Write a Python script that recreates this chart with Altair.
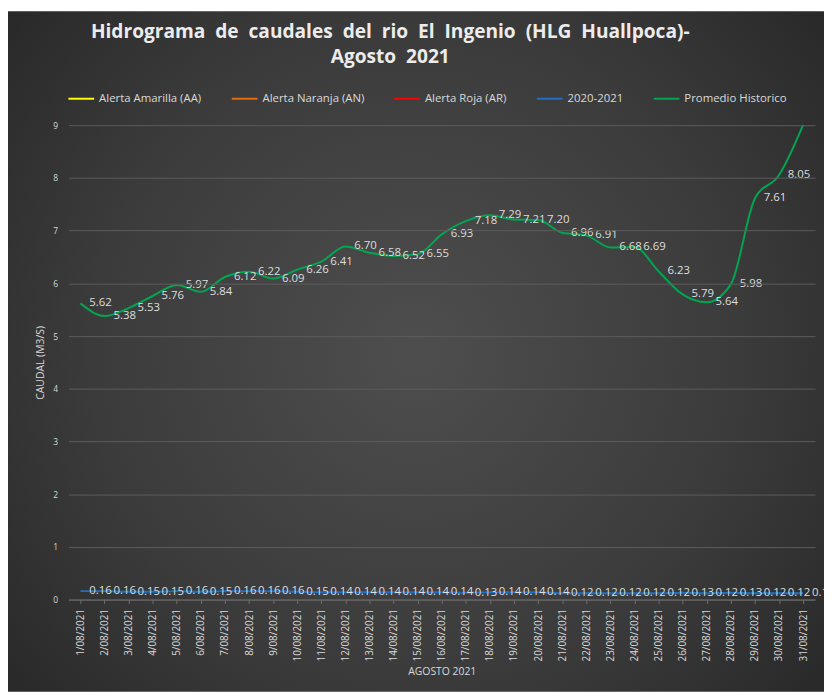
import altair as alt
import pandas as pd

dias = ["1/08/2021", "2/08/2021", "3/08/2021", "4/08/2021", "5/08/2021", "6/08/2021",
        "7/08/2021", "8/08/2021", "9/08/2021", "10/08/2021", "11/08/2021", "12/08/2021",
        "13/08/2021", "14/08/2021", "15/08/2021", "16/08/2021", "17/08/2021", "18/08/2021",
        "19/08/2021", "20/08/2021", "21/08/2021", "22/08/2021", "23/08/2021", "24/08/2021",
        "25/08/2021", "26/08/2021", "27/08/2021", "28/08/2021", "29/08/2021", "30/08/2021",
        "31/08/2021"]

promedio = [5.62, 5.38, 5.53, 5.76, 5.97, 5.84, 6.12, 6.22, 6.09, 6.26, 6.41, 6.70,
            6.58, 6.52, 6.55, 6.93, 7.18, 7.29, 7.21, 7.20, 6.96, 6.91, 6.68, 6.69,
            6.23, 5.79, 5.64, 5.98, 7.61, 8.05, 9.00]

serie_2020_2021 = [0.16, 0.16, 0.15, 0.15, 0.16, 0.15, 0.16, 0.16, 0.16, 0.15, 0.14, 0.14,
                   0.14, 0.14, 0.14, 0.14, 0.13, 0.14, 0.14, 0.14, 0.12, 0.12, 0.12, 0.12,
                   0.12, 0.13, 0.12, 0.13, 0.12, 0.12, 0.12]

series = ["Alerta Amarilla (AA)", "Alerta Naranja (AN)", "Alerta Roja (AR)",
          "2020-2021", "Promedio Historico"]
colores = ["#ffff00", "#e46c0a", "#ff0000", "#1f6fc5", "#00a650"]
grosor = [2, 2, 2, 4, 2]

y_ticks = [0, 1, 2, 3, 4, 5, 6, 7, 8, 9]

NB = "\u00a0"
titulo = [f"Hidrograma {NB}de {NB}caudales {NB}del {NB}rio {NB}El {NB}Ingenio {NB}(HLG {NB}Huallpoca)-",
          f"Agosto {NB}2021"]

rows = []
for d, v in zip(dias, promedio):
    rows.append({"dia": d, "caudal": v, "serie": "Promedio Historico"})
for d, v in zip(dias, serie_2020_2021):
    rows.append({"dia": d, "caudal": v, "serie": "2020-2021"})
df = pd.DataFrame(rows)

W, H = 754, 479
PL, PT, PR, PB = 61, 115, 9, 93

FONT = "Open Sans"
TXT = "#d9d9d9"

x_enc = alt.X("dia:N", sort=dias,
              scale=alt.Scale(type="point", padding=0.5),
              axis=alt.Axis(title="AGOSTO 2021", labelAngle=270, labelFont=FONT,
                            labelFontSize=10, labelColor=TXT, labelPadding=5,
                            domainColor="#6e6e6e", tickColor="#6e6e6e", tickSize=4,
                            titleFont=FONT, titleFontSize=10.5, titleFontWeight="normal",
                            titleColor=TXT, titlePadding=6, grid=False, zindex=1))
y_enc = alt.Y("caudal:Q",
              scale=alt.Scale(domain=[0, 9], nice=False),
              axis=alt.Axis(title="CAUDAL (M3/S)", values=y_ticks, grid=True,
                            gridColor="#5c5c5c", gridWidth=1, domain=False, ticks=False,
                            labelFont=FONT, labelFontSize=8.5, labelColor=TXT,
                            labelPadding=11, titleFont=FONT, titleFontSize=10.5,
                            titleFontWeight="normal", titleColor=TXT, titlePadding=7,
                            zindex=1))

leg = dict(orient="none", legendX=-1, legendY=-41, direction="horizontal", title=None,
           labelFont=FONT, labelFontSize=11.5, labelColor=TXT, symbolType="stroke",
           symbolSize=676, columnPadding=26, labelOffset=4)

bg = alt.Chart(alt.Data(values=[{}])).mark_rect(
    fill={"gradient": "radial", "x1": 0.5, "y1": 0.5, "r1": 0.0,
          "x2": 0.5, "y2": 0.5, "r2": 0.72,
          "stops": [{"offset": 0, "color": "#4e4e4e"},
                    {"offset": 0.55, "color": "#3b3b3b"},
                    {"offset": 1, "color": "#242424"}]}
).encode(x=alt.value(-PL), x2=alt.value(W + PR), y=alt.value(-PT), y2=alt.value(H + PB))

lines = alt.Chart(df).mark_line(interpolate="monotone").encode(
    x=x_enc, y=y_enc,
    color=alt.Color("serie:N", scale=alt.Scale(domain=series, range=colores),
                    legend=alt.Legend(**leg)),
    strokeWidth=alt.StrokeWidth("serie:N", scale=alt.Scale(domain=series, range=grosor),
                                legend=alt.Legend(**leg)),
)

labels = alt.Chart(df).transform_filter("datum.caudal < 9").mark_text(
    align="left", baseline="middle", dx=9, font=FONT, fontSize=11.5, color="#dedede"
).encode(x=x_enc, y=y_enc, text=alt.Text("caudal:Q", format=".2f"))

chart = alt.layer(bg, lines, labels).properties(
    width=W, height=H,
    title=alt.Title(text=titulo, font=FONT, fontSize=19.3, fontWeight="bold",
                    color="#ececec", offset=-56, dx=-52, baseline="top",
                    lineHeight=25, anchor="middle"),
    autosize=alt.AutoSizeParams(type="none"),
    padding={"left": PL, "top": PT, "right": PR, "bottom": PB},
).configure(background="white").configure_view(stroke=None)

chart.save("out.html", embed_options={"renderer": "svg", "actions": False})
